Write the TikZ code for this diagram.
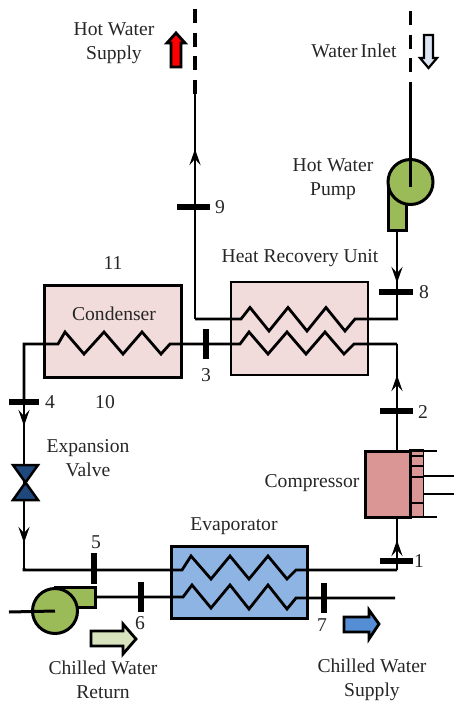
\documentclass[tikz,border=0pt]{standalone}
\usepackage{fontspec}
\setmainfont{Liberation Serif}
\usetikzlibrary{arrows.meta}
\definecolor{pinkbox}{HTML}{F2DCDB}
\definecolor{bluebox}{HTML}{8EB4E3}
\definecolor{greenfill}{HTML}{9BBB59}
\definecolor{compfill}{HTML}{D99694}
\definecolor{valvefill}{HTML}{1F497D}
\definecolor{lightgreen}{HTML}{D7E4BD}
\definecolor{lightblue}{HTML}{DCE6F2}
\definecolor{midblue}{HTML}{558ED5}
\tikzset{
  every node/.style={outer sep=0pt},
  txt/.style={font=\fontsize{19.6}{24}\selectfont,inner sep=0pt,align=center,text=black!85},
  pipe/.style={line width=2.8pt,line join=miter},
  coil/.style={line width=2.8pt,line join=miter},
  tick/.style={line width=5.5pt},
  flow/.style={line width=2.8pt,-{Stealth[length=16pt,width=11pt,inset=6pt]}},
  dashpipe/.style={line width=3.2pt,dash pattern=on 14pt off 9.5pt},
  bigarrow/.style={line width=2.8pt,line join=miter,draw=black}
}
\begin{document}
\begin{tikzpicture}[x=1pt,y=-1pt]
\useasboundingbox (0,0) rectangle (454,702);
% coordinates
\coordinate (hsTop) at (195,9);
\coordinate (hsDash) at (195,94);
\coordinate (hsCorner) at (195,319);
\coordinate (hsArrow) at (195,149);
\coordinate (hsTickL) at (177,207);
\coordinate (hsTickR) at (210,207);
\coordinate (wiTop) at (410.5,11);
\coordinate (wiDash) at (410.5,95);
\coordinate (pumpCentre) at (410.5,182);
\coordinate (p8Top) at (397,230);
\coordinate (p8Arrow) at (397,283);
\coordinate (p8End) at (397,318);
\coordinate (t8L) at (379,292);
\coordinate (t8R) at (413,292);
\coordinate (hruLoIn) at (397,344);
\coordinate (t2L) at (380,411);
\coordinate (t2R) at (413,411);
\coordinate (a2) at (397,375);
\coordinate (compTop) at (397,450);
\coordinate (compBot) at (397,518);
\coordinate (a1) at (397,540);
\coordinate (t1L) at (380,561);
\coordinate (t1R) at (413,561);
\coordinate (evoUpEnd) at (397,570);
% boxes
\node[draw,line width=3pt,fill=pinkbox,minimum width=137pt,minimum height=92pt,inner sep=0pt,anchor=north west] (cond) at (44,285) {};
\node[draw,line width=2pt,fill=pinkbox,minimum width=137pt,minimum height=93pt,inner sep=0pt,anchor=north west] (hru) at (231,282) {};
\node[draw,line width=3pt,fill=bluebox,minimum width=136pt,minimum height=72pt,inner sep=0pt,anchor=north west] (evap) at (171,546) {};
% compressor
\node[draw,line width=1.5pt,fill=compfill,minimum width=13.5pt,minimum height=67pt,inner sep=0pt,anchor=north west] (compFins) at (410,450) {};
\node[draw,line width=3pt,fill=compfill,minimum width=45pt,minimum height=66pt,inner sep=0pt,anchor=north west] (comp) at (365,451) {};
\draw[line width=1.2pt] (410,456)--(423,456) (410,466)--(423,466) (410,503)--(423,503);
\draw[line width=1.5pt] (410,477)--(423,477);
\draw[line width=1.5pt] (410,451)--(437,451) (410,517)--(437,517);
\draw[line width=1.5pt] (423,476)--(454,476) (423,494)--(454,494);
% condenser coil
\draw[coil] (24,401)--(24,344)--(58,344)--(65,332)--(84,354)--(104,332)--(123,354)--(142,332)--(161,354)--(170,344)--(231,344);
% HRU coils
\draw[coil] (hsCorner)--(241,319)--(250,307.5)--(269,331)--(288,307.5)--(307,331)--(326,307.5)--(345,331)--(355,319)--(398,319);
\draw[coil] (231,344)--(240,344)--(249,332)--(268,354)--(287,332)--(306,354)--(325,332)--(344,354)--(354,344)--(hruLoIn);
% evap coils
\draw[coil] (24,568)--(24,570)--(182,570)--(191,556)--(211,579)--(230,556)--(249,579)--(268,556)--(287,579)--(296,570)--(evoUpEnd);
\draw[coil] (96,597)--(183,597)--(192,585)--(211,608)--(230,585)--(249,609)--(268,585)--(287,609)--(296,598)--(395,598);
% pipes
\draw[pipe] (hsCorner)--(hsDash);
\draw[dashpipe] (hsTop)--(hsDash);
\draw[flow] (195,200)--(hsArrow);
\draw[tick] (hsTickL)--(hsTickR);
\draw[pipe] (wiDash)--(pumpCentre);
\draw[dashpipe] (wiTop)--(wiDash);
\draw[pipe] (p8Top)--(p8End);
\draw[flow] (397,250)--(p8Arrow);
\draw[tick] (t8L)--(t8R);
\draw[pipe] (hruLoIn)--(compTop);
\draw[flow] (397,400)--(a2);
\draw[tick] (t2L)--(t2R);
\draw[pipe] (evoUpEnd)--(compBot);
\draw[flow] (397,565)--(a1);
\draw[tick] (t1L)--(t1R);
\draw[pipe] (24,401)--(24,568);
\draw[flow] (24,400)--(24,426);
\draw[flow] (24,510)--(24,543);
\draw[tick] (9,402)--(39,402);
\draw[tick] (206,329)--(206,359);
\draw[tick] (94,553)--(94,584);
\draw[tick] (141,582)--(141,612);
\draw[tick] (324,583)--(324,613);
% valve
\draw[line width=2.5pt,fill=valvefill,line join=miter] (13,465)--(38,465)--(13,500)--(38,500)--cycle;
% hot water pump
\draw[line width=3pt,fill=greenfill,line join=miter] (388,182)--(388,230)--(406,230)--(406,182)--cycle;
\node[draw,circle,line width=3pt,fill=greenfill,minimum size=45pt,inner sep=0pt] (hwp) at (pumpCentre) {};
\draw[pipe] (wiDash)--(pumpCentre)--(410.5,187);
% chilled water pump
\draw[line width=3pt,fill=greenfill,line join=miter] (55,587.5)--(95,587.5)--(95,607)--(55,607)--cycle;
\node[draw,circle,line width=3pt,fill=greenfill,minimum size=45pt,inner sep=0pt] (cwp) at (55,611) {};
\draw[line width=3pt] (9,612)--(cwp.center);
% block arrows
\draw[bigarrow,fill=red] (171,67)--(181,67)--(181,43)--(185,43)--(176,33)--(167,43)--(171,43)--cycle;
\draw[line width=2.2pt,line join=miter,fill=lightblue] (424,35)--(433,35)--(433,58)--(437,58)--(428.5,68)--(420,58)--(424,58)--cycle;
\draw[bigarrow,fill=lightgreen] (91,631)--(123,631)--(123,624)--(136,639)--(123,654)--(123,646)--(91,646)--cycle;
\draw[bigarrow,fill=midblue] (344,617)--(369,617)--(369,610)--(379,624)--(369,639)--(369,632)--(344,632)--cycle;
% labels
\node[txt] (lHWS) at (114,43) {Hot Water\\Supply};
\node[txt] (lWI) at (354,51) {Water\hspace{3pt}Inlet};
\node[txt] (lHWP) at (333,179) {Hot Water\\Pump};
\node[txt] (l9) at (220,207) {9};
\node[txt] (lHRU) at (300,258) {Heat Recovery Unit};
\node[txt] (l11) at (113,263) {11};
\node[txt] (l8) at (424,292) {8};
\node[txt] (lCond) at (114,314) {Condenser};
\node[txt] (l3) at (206,375) {3};
\node[txt] (l10) at (105,402) {10};
\node[txt] (l4) at (50,402) {4};
\node[txt] (l2) at (423,412) {2};
\node[txt] (lEV) at (88,458) {Expansion\\Valve};
\node[txt] (lComp) at (312,483) {Compressor};
\node[txt] (lEvap) at (234,526) {Evaporator};
\node[txt] (l5) at (96,542) {5};
\node[txt] (l1) at (419,561) {1};
\node[txt] (l6) at (140,623) {6};
\node[txt] (l7) at (322,625) {7};
\node[txt] (lCWR) at (103,680) {Chilled Water\\Return};
\node[txt] (lCWS) at (372,680) {Chilled Water\\Supply};
\end{tikzpicture}
\end{document}
